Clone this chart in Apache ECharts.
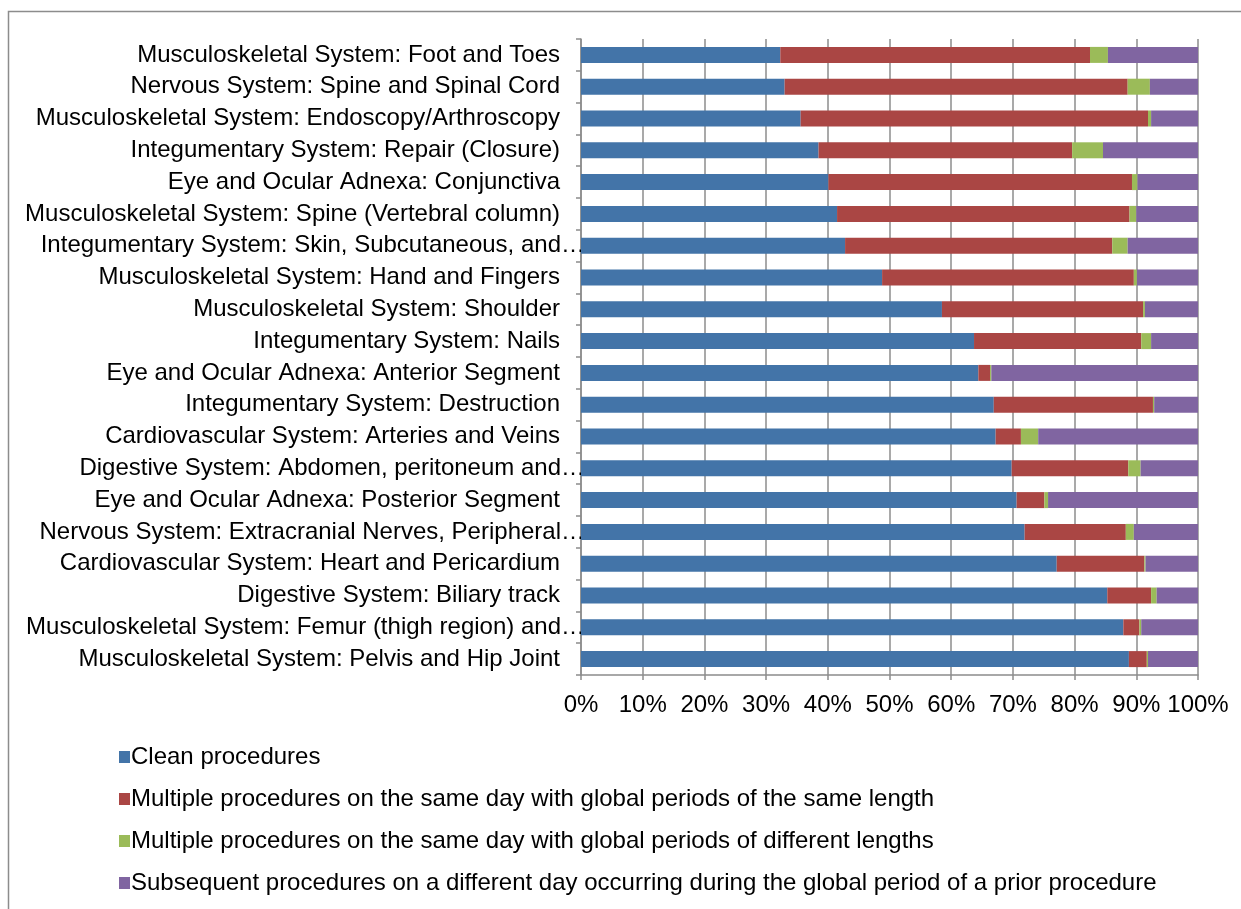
<!DOCTYPE html>
<html>
<head>
<meta charset="utf-8">
<style>
  html, body { margin: 0; padding: 0; background: #fff; }
  #chart { width: 1241px; height: 909px; }
</style>
<script src="https://cdn.jsdelivr.net/npm/echarts@6/dist/echarts.min.js"></script>
</head>
<body>
<div id="chart"></div>
<script>
// Surgical procedure families, top to bottom
const categories = [
  'Musculoskeletal System: Foot and Toes',
  'Nervous System: Spine and Spinal Cord',
  'Musculoskeletal System: Endoscopy/Arthroscopy',
  'Integumentary System: Repair (Closure)',
  'Eye and Ocular Adnexa: Conjunctiva',
  'Musculoskeletal System: Spine (Vertebral column)',
  'Integumentary System: Skin, Subcutaneous, and\u2026',
  'Musculoskeletal System: Hand and Fingers',
  'Musculoskeletal System: Shoulder',
  'Integumentary System: Nails',
  'Eye and Ocular Adnexa: Anterior Segment',
  'Integumentary System: Destruction',
  'Cardiovascular System: Arteries and Veins',
  'Digestive System: Abdomen, peritoneum and\u2026',
  'Eye and Ocular Adnexa: Posterior Segment',
  'Nervous System: Extracranial Nerves, Peripheral\u2026',
  'Cardiovascular System: Heart and Pericardium',
  'Digestive System: Biliary track',
  'Musculoskeletal System: Femur (thigh region) and\u2026',
  'Musculoskeletal System: Pelvis and Hip Joint'
];

// Share of procedures (%) in each group
const cleanProcedures = [32.3, 33.0, 35.6, 38.5, 40.1, 41.5, 42.8, 48.8, 58.5, 63.7, 64.4, 66.9, 67.2, 69.8, 70.6, 71.9, 77.1, 85.3, 87.9, 88.8];
const sameLength      = [50.2, 55.6, 56.3, 41.1, 49.2, 47.4, 43.3, 40.8, 32.6, 27.1, 1.9, 25.8, 4.1, 18.9, 4.5, 16.4, 14.2, 7.1, 2.6, 2.9];
const differentLength = [2.9, 3.6, 0.5, 5.0, 0.9, 1.1, 2.5, 0.5, 0.3, 1.6, 0.2, 0.2, 2.8, 2.0, 0.6, 1.3, 0.2, 0.9, 0.3, 0.2];
const subsequent      = [14.6, 7.8, 7.6, 15.4, 9.8, 10.0, 11.4, 9.9, 8.6, 7.6, 33.5, 7.1, 25.9, 9.3, 24.3, 10.4, 8.5, 6.7, 9.2, 8.1];

const seriesNames = [
  'Clean procedures',
  'Multiple procedures on the same day with global periods of the same length',
  'Multiple procedures on the same day with global periods of different lengths',
  'Subsequent procedures on a different day occurring during the global period of a prior procedure'
];

const xTicks = [0, 10, 20, 30, 40, 50, 60, 70, 80, 90, 100];

const colors = ['#4374a8', '#aa4644', '#9bbb59', '#8065a1'];
const FONT = '"Liberation Sans", Arial, sans-serif';
const FS = 24;

const chart = echarts.init(document.getElementById('chart'), null, { renderer: 'canvas' });

const seriesData = [cleanProcedures, sameLength, differentLength, subsequent];

chart.setOption({
  backgroundColor: '#ffffff',
  animation: false,
  color: colors,
  textStyle: { fontFamily: FONT },
  graphic: [{
    type: 'rect',
    left: 6, top: 9,
    shape: { width: 1245, height: 920 },
    style: { fill: 'none', stroke: '#8c8c8c', lineWidth: 1.5 },
    silent: true
  }],
  grid: { left: 581, right: 43, top: 39, bottom: 234, containLabel: false },
  legend: {
    orient: 'vertical',
    left: 114, top: 740,
    itemWidth: 11, itemHeight: 12,
    itemGap: 18,
    icon: 'rect',
    textStyle: { fontFamily: FONT, fontSize: FS, color: '#000', padding: [0, 0, 0, -4] },
    data: seriesNames
  },
  xAxis: {
    type: 'value',
    min: xTicks[0], max: xTicks[xTicks.length - 1], interval: 10,
    axisLine: { show: true, lineStyle: { color: '#8c8c8c', width: 1.5 } },
    axisTick: { show: true, length: 5, lineStyle: { color: '#8c8c8c', width: 1.5 } },
    splitLine: { show: true, lineStyle: { color: '#8c8c8c', width: 1.5 } },
    axisLabel: { formatter: '{value}%', fontFamily: FONT, fontSize: FS, color: '#000', margin: 18 }
  },
  yAxis: {
    type: 'category',
    inverse: true,
    data: categories,
    axisLine: { show: true, lineStyle: { color: '#8c8c8c', width: 1.5 } },
    axisTick: { show: true, length: 5, lineStyle: { color: '#8c8c8c', width: 1.5 } },
    axisLabel: {
      fontFamily: FONT, fontSize: FS, color: '#000', margin: -4,
      formatter: function (v) {
        return v.endsWith('\u2026') ? '{t|' + v + '}' : '{n|' + v + '}';
      },
      rich: {
        n: { fontFamily: FONT, fontSize: FS, color: '#000', padding: [0, 25, 0, 0] },
        t: { fontFamily: FONT, fontSize: FS, color: '#000' }
      }
    }
  },
  series: seriesNames.map(function (name, i) {
    return {
      name: name,
      type: 'bar',
      stack: 'total',
      barWidth: 16,
      data: seriesData[i],
      itemStyle: { color: colors[i] }
    };
  })
});
</script>
</body>
</html>
